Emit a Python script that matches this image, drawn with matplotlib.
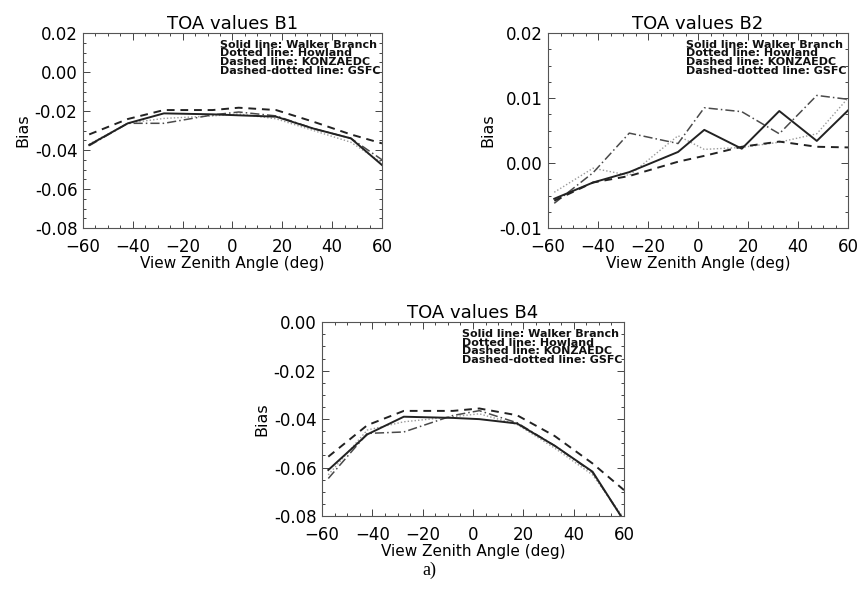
import matplotlib
matplotlib.use("Agg")
import matplotlib.pyplot as plt
from matplotlib.ticker import MultipleLocator, FormatStrFormatter

# view zenith angles (deg)
angles = [-57.5, -42, -27.5, -8, 2.5, 17.5, 32.5, 47.5, 60]

# TOA bias per site, band B1
b1_walker = [-0.0374, -0.0263, -0.0212, -0.0217, -0.0222, -0.0229, -0.0290, -0.0340, -0.0477]
b1_howland = [-0.0370, -0.0262, -0.0238, -0.0225, -0.0215, -0.0240, -0.0300, -0.0360, -0.0465]
b1_konza = [-0.0320, -0.0241, -0.0195, -0.0195, -0.0183, -0.0195, -0.0255, -0.0320, -0.0366]
b1_gsfc = [-0.0378, -0.0263, -0.0263, -0.0220, -0.0205, -0.0225, -0.0290, -0.0340, -0.0450]

# band B2
b2_walker = [-0.0055, -0.0030, -0.0014, 0.0017, 0.0051, 0.0022, 0.0080, 0.0034, 0.0081]
b2_howland = [-0.0045, -0.0008, -0.0019, 0.0042, 0.0021, 0.0024, 0.0032, 0.0045, 0.0100]
b2_konza = [-0.0058, -0.0030, -0.0020, 0.0002, 0.0011, 0.0025, 0.0033, 0.0025, 0.0024]
b2_gsfc = [-0.0062, -0.0015, 0.0046, 0.0030, 0.0085, 0.0079, 0.0045, 0.0104, 0.0098]

# band B4
b4_walker = [-0.0610, -0.0463, -0.0390, -0.0395, -0.0400, -0.0418, -0.0510, -0.0617, -0.0820]
b4_howland = [-0.0630, -0.0445, -0.0411, -0.0390, -0.0378, -0.0422, -0.0520, -0.0630, -0.0810]
b4_konza = [-0.0555, -0.0425, -0.0366, -0.0366, -0.0356, -0.0384, -0.0470, -0.0583, -0.0693]
b4_gsfc = [-0.0645, -0.0459, -0.0453, -0.0385, -0.0365, -0.0415, -0.0510, -0.0620, -0.0820]

legend_text = ("Solid line: Walker Branch\n"
               "Dotted line: Howland\n"
               "Dashed line: KONZAEDC\n"
               "Dashed-dotted line: GSFC")

plt.rcParams['font.family'] = ['DejaVu Sans']

fig = plt.figure(figsize=(8.58, 5.89), dpi=100)

panels = [
    ("TOA values B1", [0.0967, 0.6129, 0.3485, 0.331], (-0.08, 0.02), 0.02, 0.005,
     (b1_walker, b1_howland, b1_konza, b1_gsfc)),
    ("TOA values B2", [0.6387, 0.6129, 0.3497, 0.331], (-0.01, 0.02), 0.01, 0.0025,
     (b2_walker, b2_howland, b2_konza, b2_gsfc)),
    ("TOA values B4", [0.3753, 0.1239, 0.352, 0.329], (-0.08, 0.0), 0.02, 0.005,
     (b4_walker, b4_howland, b4_konza, b4_gsfc)),
]

for title, rect, ylim, ymaj, ymin, series in panels:
    ax = fig.add_axes(rect)
    walker, howland, konza, gsfc = series
    ax.plot(angles, howland, color='#9a9a9a', lw=1.0, ls=(0, (1, 1.5)))
    ax.plot(angles, gsfc, color='#4a4a4a', lw=1.1, ls=(0, (6, 2, 1, 2)))
    ax.plot(angles, konza, color='#222222', lw=1.4, ls=(0, (4, 3)))
    ax.plot(angles, walker, color='#222222', lw=1.4, ls='-')
    ax.set_xlim(-60, 60)
    ax.set_ylim(*ylim)
    ax.xaxis.set_major_locator(MultipleLocator(20))
    ax.xaxis.set_minor_locator(MultipleLocator(5))
    ax.yaxis.set_major_locator(MultipleLocator(ymaj))
    ax.yaxis.set_minor_locator(MultipleLocator(ymin))
    ax.yaxis.set_major_formatter(FormatStrFormatter('%.2f'))
    ax.tick_params(which='both', direction='in', top=True, right=True,
                   labelsize=12, color='#444444', width=0.7)
    ax.tick_params(which='major', length=5)
    ax.tick_params(which='minor', length=2.5)
    ax.tick_params(axis='x', which='major', pad=7)
    ax.tick_params(axis='y', which='major', pad=4)
    for s in ax.spines.values():
        s.set_linewidth(0.8)
        s.set_color('#555555')
    ax.set_title(title, fontsize=13, pad=3)
    ax.set_xlabel('View Zenith Angle (deg)', fontsize=11, labelpad=0)
    ax.set_ylabel('Bias', fontsize=11.5, labelpad=3)
    ax.text(0.995, 0.965, legend_text, transform=ax.transAxes, ha='right', va='top',
            multialignment='left', fontsize=8, fontweight='bold',
            linespacing=0.82, color='#111111')

fig.text(0.501, 0.032, 'a)', ha='center', va='center', fontsize=13,
         family='Liberation Serif')

fig.savefig('out.png', dpi=100)
